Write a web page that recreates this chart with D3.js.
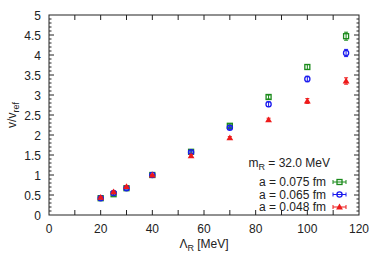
<!DOCTYPE html>
<html>
<head>
<meta charset="utf-8">
<script src="https://cdn.jsdelivr.net/npm/d3@7"></script>
<style>
  body { margin: 0; background: #fff; }
  text { font-family: "Liberation Sans", Arial, sans-serif; }
</style>
</head>
<body>
<svg id="chart" width="382" height="267"></svg>
<script>
// lambda_R values (MeV)
var lambdas = [20, 25, 30, 40, 55, 70, 85, 100, 115];
// v / v_ref for each lattice spacing
var v075 = [0.42, 0.52, 0.67, 1.00, 1.58, 2.23, 2.95, 3.70, 4.47];
var e075 = [0.02, 0.02, 0.02, 0.01, 0.03, 0.04, 0.05, 0.06, 0.10];
var v065 = [0.42, 0.55, 0.67, 1.00, 1.57, 2.18, 2.77, 3.40, 4.05];
var e065 = [0.02, 0.02, 0.02, 0.01, 0.03, 0.04, 0.06, 0.07, 0.09];
var v048 = [0.44, 0.58, 0.71, 1.00, 1.48, 1.93, 2.38, 2.85, 3.35];
var e048 = [0.02, 0.02, 0.02, 0.01, 0.03, 0.03, 0.04, 0.06, 0.08];
var seriesNames = ['a = 0.075 fm', 'a = 0.065 fm', 'a = 0.048 fm'];
var xTicks = [0, 20, 40, 60, 80, 100, 120];
var yTicks = [0, 0.5, 1, 1.5, 2, 2.5, 3, 3.5, 4, 4.5, 5];

var pLeft = 49, pRight = 359, pTop = 15, pBottom = 215;
var svg = d3.select('#chart');

var x = d3.scaleLinear().domain([0, 120]).range([pLeft, pRight]);
var y = d3.scaleLinear().domain([0, 5]).range([pBottom, pTop]);

var axisColor = '#222';

// frame
svg.append('rect')
    .attr('x', pLeft).attr('y', pTop)
    .attr('width', pRight - pLeft).attr('height', pBottom - pTop)
    .attr('fill', 'none').attr('stroke', axisColor).attr('stroke-width', 1);

var ticks = svg.append('g').attr('stroke', axisColor).attr('stroke-width', 1);

// x ticks every 10 on bottom and top
d3.range(10, 120, 10).forEach(function(v) {
    ticks.append('line').attr('x1', x(v)).attr('x2', x(v)).attr('y1', pBottom).attr('y2', pBottom - 5);
    ticks.append('line').attr('x1', x(v)).attr('x2', x(v)).attr('y1', pTop).attr('y2', pTop + 5);
});
// y major and minor ticks on left and right
d3.range(1, 50, 1).forEach(function(i) {
    var v = i / 10;
    var len = (i % 5 == 0) ? 5 : 2.5;
    ticks.append('line').attr('x1', pLeft).attr('x2', pLeft + len).attr('y1', y(v)).attr('y2', y(v));
    ticks.append('line').attr('x1', pRight).attr('x2', pRight - len).attr('y1', y(v)).attr('y2', y(v));
});

// tick labels
svg.append('g').selectAll('text')
    .data(xTicks).enter()
    .append('text')
    .attr('x', function(d) { return x(d); })
    .attr('y', pBottom + 18)
    .attr('text-anchor', 'middle')
    .attr('font-size', 12)
    .attr('fill', '#222')
    .text(function(d) { return d; });

svg.append('g').selectAll('text')
    .data(yTicks).enter()
    .append('text')
    .attr('x', pLeft - 8)
    .attr('y', function(d) { return y(d) + 4.5; })
    .attr('text-anchor', 'end')
    .attr('font-size', 12)
    .attr('fill', '#222')
    .text(function(d) { return d; });

// axis titles
var xt = svg.append('text')
    .attr('x', x(60)).attr('y', 248)
    .attr('text-anchor', 'middle')
    .attr('font-size', 12)
    .attr('fill', '#222');
xt.append('tspan').text('\u039B');
xt.append('tspan').attr('font-size', 9).attr('dy', 3).text('R');
xt.append('tspan').attr('dy', -3).text(' [MeV]');

var yt = svg.append('text')
    .attr('transform', 'translate(16,' + y(2.5) + ') rotate(-90)')
    .attr('text-anchor', 'middle')
    .attr('font-size', 12)
    .attr('fill', '#222');
yt.append('tspan').text('v/v');
yt.append('tspan').attr('font-size', 9).attr('dy', 3).text('ref');

// series
var series = [
    { vals: v075, errs: e075, color: '#1a8a1a', shape: 'square' },
    { vals: v065, errs: e065, color: '#1a1aee', shape: 'circle' },
    { vals: v048, errs: e048, color: '#ee1a1a', shape: 'triangle' }
];

function drawMarker(g, shape, color, cx, cy) {
    if (shape == 'square') {
        g.append('rect').attr('x', cx - 2.5).attr('y', cy - 2.5).attr('width', 5).attr('height', 5)
            .attr('fill', 'none').attr('stroke', color).attr('stroke-width', 1.3);
    } else if (shape == 'circle') {
        g.append('circle').attr('cx', cx).attr('cy', cy).attr('r', 2.6)
            .attr('fill', 'none').attr('stroke', color).attr('stroke-width', 1.3);
    } else {
        g.append('path')
            .attr('d', d3.symbol().type(d3.symbolTriangle).size(20)())
            .attr('transform', 'translate(' + cx + ',' + (cy + 0.5) + ')')
            .attr('fill', color);
    }
}

series.forEach(function(s) {
    var g = svg.append('g');
    lambdas.forEach(function(l, i) {
        var cx = x(l), cy = y(s.vals[i]);
        var y1 = y(s.vals[i] + s.errs[i]), y2 = y(s.vals[i] - s.errs[i]);
        g.append('line').attr('x1', cx).attr('x2', cx).attr('y1', y1).attr('y2', y2)
            .attr('stroke', s.color).attr('stroke-width', 1);
        g.append('line').attr('x1', cx - 2).attr('x2', cx + 2).attr('y1', y1).attr('y2', y1)
            .attr('stroke', s.color).attr('stroke-width', 1);
        g.append('line').attr('x1', cx - 2).attr('x2', cx + 2).attr('y1', y2).attr('y2', y2)
            .attr('stroke', s.color).attr('stroke-width', 1);
        drawMarker(g, s.shape, s.color, cx, cy);
    });
});

// legend
var mt = svg.append('text')
    .attr('x', 330).attr('y', 167)
    .attr('text-anchor', 'end')
    .attr('font-size', 12)
    .attr('fill', '#222');
mt.append('tspan').text('m');
mt.append('tspan').attr('font-size', 9).attr('dy', 3).text('R');
mt.append('tspan').attr('dy', -3).text(' = 32.0 MeV');

var legend = svg.append('g').selectAll('g')
    .data(series).enter()
    .append('g');

legend.append('text')
    .attr('x', 326)
    .attr('y', function(d, i) { return 186 + i * 12.5; })
    .attr('text-anchor', 'end')
    .attr('font-size', 12)
    .attr('fill', '#222')
    .text(function(d, i) { return seriesNames[i]; });

legend.each(function(d, i) {
    var g = d3.select(this);
    var ly = 182 + i * 12.5;
    g.append('line').attr('x1', 333).attr('x2', 346).attr('y1', ly).attr('y2', ly)
        .attr('stroke', d.color).attr('stroke-width', 1);
    g.append('line').attr('x1', 333).attr('x2', 333).attr('y1', ly - 2).attr('y2', ly + 2)
        .attr('stroke', d.color).attr('stroke-width', 1);
    g.append('line').attr('x1', 346).attr('x2', 346).attr('y1', ly - 2).attr('y2', ly + 2)
        .attr('stroke', d.color).attr('stroke-width', 1);
    drawMarker(g, d.shape, d.color, 339.5, ly);
});
</script>
</body>
</html>
